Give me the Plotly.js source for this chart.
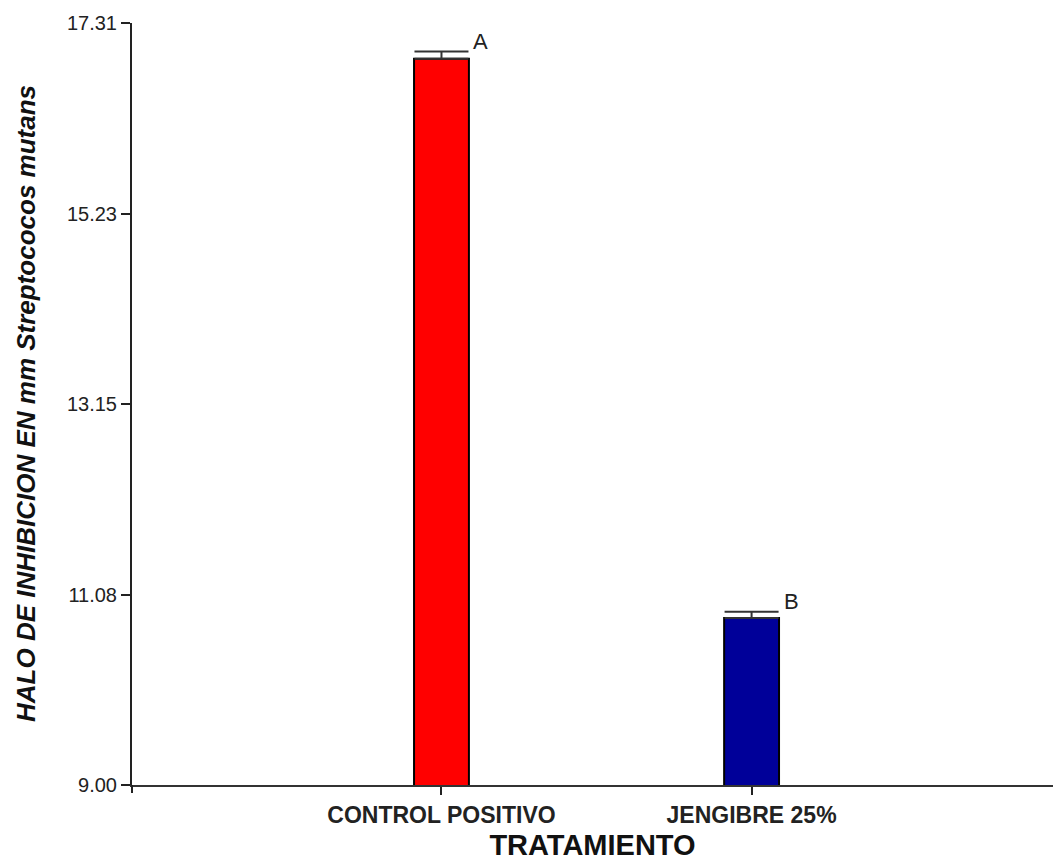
<!DOCTYPE html>
<html>
<head>
<meta charset="utf-8">
<script src="https://cdn.plot.ly/plotly-3.0.1.min.js"></script>
<style>
  html, body { margin: 0; padding: 0; background: #ffffff; }
  #chart { width: 1055px; height: 861px; }
</style>
</head>
<body>
<div id="chart"></div>
<script>
// Inhibition halo (mm) against Streptococcus mutans by treatment
const categories = ["CONTROL POSITIVO", "JENGIBRE 25%"];
const means = [16.92, 10.82];
const errors = [0.08, 0.07];
const groupLetters = ["A", "B"];
const barColors = ["#ff0000", "#000099"];
const yTickValues = [9.00, 11.0775, 13.155, 15.2325, 17.31];
const yTickLabels = ["9.00", "11.08", "13.15", "15.23", "17.31"];

const xIdx = categories.map((_, i) => i);

const bars = {
  type: "bar",
  x: xIdx,
  y: means,
  base: 0,
  width: 0.177,
  marker: { color: barColors, line: { color: "#000000", width: 2 } },
  // upper whisker only: the lower half is hidden by the bar top
  error_y: { type: "data", symmetric: false, array: errors, arrayminus: errors.map(() => 0),
             visible: true, color: "#333333", thickness: 2, width: 27 },
  hoverinfo: "skip",
  showlegend: false
};

const letterNotes = groupLetters.map((t, i) => ({
  x: i, y: means[i] + errors[i], xref: "x", yref: "y",
  text: t, showarrow: false, xanchor: "left", yanchor: "middle",
  xshift: 30, yshift: 10,
  font: { family: "Liberation Sans, Arial, sans-serif", size: 22, color: "#222222" }
}));

const layout = {
  width: 1055, height: 861,
  margin: { l: 132, r: 2, t: 23, b: 76, pad: 0 },
  paper_bgcolor: "#ffffff", plot_bgcolor: "#ffffff",
  xaxis: {
    range: [-0.998, 1.972],
    tickmode: "array", tickvals: xIdx, ticktext: categories,
    ticks: "outside", ticklen: 8, tickwidth: 2, tickcolor: "#222222",
    showline: true, linecolor: "#333333", linewidth: 2,
    showgrid: false, zeroline: false,
    tickfont: { family: "Liberation Sans, Arial, sans-serif", size: 23, weight: "bold", color: "#222222" },
    title: { text: "TRATAMIENTO", standoff: 13,
      font: { family: "Liberation Sans, Arial, sans-serif", size: 29, weight: "bold", color: "#111111" } }
  },
  yaxis: {
    range: [9.0, 17.31],
    tickmode: "array", tickvals: yTickValues, ticktext: yTickLabels,
    ticks: "outside", ticklen: 9, tickwidth: 2, tickcolor: "#222222",
    showline: true, linecolor: "#222222", linewidth: 2,
    showgrid: false, zeroline: false,
    tickfont: { family: "Liberation Sans, Arial, sans-serif", size: 20, color: "#222222" }
  },
  annotations: letterNotes.concat([{
    xref: "paper", yref: "paper", x: 0, y: 0.5, xshift: -106,
    xanchor: "center", yanchor: "middle", textangle: -90, showarrow: false,
    text: "HALO DE INHIBICION EN mm Streptococos mutans",
    font: { family: "Liberation Sans, Arial, sans-serif", size: 26, weight: "bold", style: "italic", color: "#111111" }
  }]),
  shapes: [{
    // short continuation of the value axis below the baseline
    type: "line", xref: "paper", yref: "paper", x0: 0, x1: 0,
    ysizemode: "pixel", yanchor: 0, y0: 0, y1: -8,
    line: { color: "#222222", width: 2 }
  }]
};

Plotly.newPlot("chart", [bars], layout, { displayModeBar: false, staticPlot: true });
</script>
</body>
</html>
